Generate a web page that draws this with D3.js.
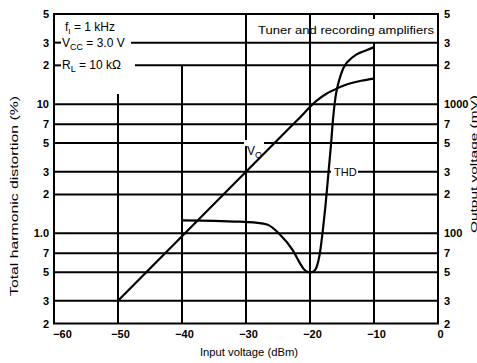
<!DOCTYPE html>
<html><head><meta charset="utf-8">
<script src="https://cdn.jsdelivr.net/npm/d3@7"></script>
<style>
html,body{margin:0;padding:0;background:#fff;}
text{font-family:"Liberation Sans",Arial,sans-serif;fill:#000;}
</style></head>
<body><svg id="c" width="477" height="363"></svg>
<script>
// ---- data ----
const xTicks = [-60, -50, -40, -30, -20, -10, 0];
const leftTickValues = [50, 30, 20, 10, 7, 5, 3, 2, 1, 0.7, 0.5, 0.3, 0.2];
const leftTickLabels = ["5", "3", "2", "10", "7", "5", "3", "2", "1.0", "7", "5", "3", "2"];
const rightTickValues = [5000, 3000, 2000, 1000, 700, 500, 300, 200, 100, 70, 50, 30, 20];
const rightTickLabels = ["5", "3", "2", "1000", "7", "5", "3", "2", "100", "7", "5", "3", "2"];
const gridValues = [10, 7, 5, 3, 2, 1, 0.7, 0.5, 0.3];
const partialGridValues = [30, 20];
// THD (%) vs input (dBm)
const thdInput = [-40, -35, -31, -28.5, -26.7, -24.7, -22.7, -21.6, -21.0, -20.3, -19.7, -19.2, -18.9, -18.5, -18.0, -17.6, -17.1, -16.7, -16.4, -16.0, -15.5, -14.8, -13.3, -11.1, -10];
const thdValue = [1.26, 1.25, 1.23, 1.21, 1.17, 0.98, 0.74, 0.59, 0.53, 0.50, 0.50, 0.52, 0.56, 0.68, 1.05, 1.6, 3.0, 5.0, 7.7, 11.5, 15.0, 19.0, 23.2, 26.3, 27.7];
// Output voltage (mV) vs input (dBm)
const voInput = [-50, -40, -30, -25, -22, -19, -17.5, -16.4, -14.8, -13.5, -12, -10];
const voValue = [30, 95, 300, 533, 750, 1060, 1200, 1280, 1390, 1460, 1520, 1580];

// ---- scales ----
const svg = d3.select("#c");
const x = d3.scaleLinear().domain([-60, 0]).range([54, 438]);
const y = d3.scaleLog().domain([0.2, 50]).range([323.5, 14]);
const yR = d3.scaleLog().domain([20, 5000]).range([323.5, 14]);
const X0 = x(-60), X1 = x(0), Y0 = y(0.2), Y1 = y(50);
const LW = 2;

const g = svg.append("g");
// horizontal grid
g.selectAll(".hg").data(gridValues).enter().append("line")
  .attr("x1", X0).attr("x2", X1).attr("y1", d => y(d)).attr("y2", d => y(d))
  .attr("stroke", "#000").attr("stroke-width", LW);
g.selectAll(".pg").data(partialGridValues).enter().append("line")
  .attr("x1", (d, i) => i === 0 ? 131 : 135).attr("x2", X1).attr("y1", d => y(d)).attr("y2", d => y(d))
  .attr("stroke", "#000").attr("stroke-width", LW);
// left small ticks for 30 and 20
g.selectAll(".lt").data(partialGridValues).enter().append("line")
  .attr("x1", X0).attr("x2", X0 + 7).attr("y1", d => y(d)).attr("y2", d => y(d))
  .attr("stroke", "#000").attr("stroke-width", LW);
// vertical grid
const vGrid = [{v: -50, top: 12}, {v: -40, top: 20}, {v: -30, top: 50}, {v: -20, top: 50}, {v: -10, top: 30}];
g.selectAll(".vg").data(vGrid).enter().append("line")
  .attr("x1", d => x(d.v)).attr("x2", d => x(d.v)).attr("y1", d => y(d.top)).attr("y2", Y0)
  .attr("stroke", "#000").attr("stroke-width", LW);
// top tick at -10
g.append("line").attr("x1", x(-10)).attr("x2", x(-10)).attr("y1", Y1).attr("y2", Y1 + 5)
  .attr("stroke", "#000").attr("stroke-width", LW);
// border
g.append("rect").attr("x", X0).attr("y", Y1).attr("width", X1 - X0).attr("height", Y0 - Y1)
  .attr("fill", "none").attr("stroke", "#000").attr("stroke-width", LW);

// curves
const thdLine = d3.line().x((d, i) => x(thdInput[i])).y(d => y(d)).curve(d3.curveMonotoneX);
g.append("path").attr("d", thdLine(thdValue)).attr("fill", "none").attr("stroke", "#000").attr("stroke-width", 2.2);
const voLine = d3.line().x((d, i) => x(voInput[i])).y(d => yR(d)).curve(d3.curveMonotoneX);
g.append("path").attr("d", voLine(voValue)).attr("fill", "none").attr("stroke", "#000").attr("stroke-width", 2.2);

// axes
const fontSize = 11;
const FF = "Liberation Sans, Arial, sans-serif";
const xAxis = d3.axisBottom(x).tickValues(xTicks).tickSize(0).tickPadding(7)
  .tickFormat(d => d === 0 ? "0" : "\u2212" + Math.abs(d));
const gx = svg.append("g").attr("transform", `translate(0,${Y0})`).call(xAxis);
gx.select(".domain").remove();
gx.selectAll("text").attr("font-size", fontSize).attr("font-weight", "bold").attr("font-family", FF)
  .attr("dx", d => d === -60 ? 8 : 2);

const yAxisL = d3.axisLeft(y).tickValues(leftTickValues).tickSize(0).tickPadding(5)
  .tickFormat((d, i) => leftTickLabels[i]);
const gl = svg.append("g").attr("transform", `translate(${X0},0)`).call(yAxisL);
gl.select(".domain").remove();
gl.selectAll("text").attr("font-size", fontSize).attr("font-weight", "bold").attr("font-family", FF);

const yAxisR = d3.axisRight(yR).tickValues(rightTickValues).tickSize(0).tickPadding(6)
  .tickFormat((d, i) => rightTickLabels[i]);
const gr = svg.append("g").attr("transform", `translate(${X1},0)`).call(yAxisR);
gr.select(".domain").remove();
gr.selectAll("text").attr("font-size", fontSize).attr("font-weight", "bold").attr("font-family", FF);

// axis titles
svg.append("text").attr("transform", `translate(18,196) rotate(-90)`)
  .attr("text-anchor", "middle").attr("font-size", 11).attr("textLength", 200).attr("lengthAdjust", "spacingAndGlyphs")
  .text("Total harmonic distortion (%)");
svg.append("text").attr("transform", `translate(476.5,164) rotate(-90)`)
  .attr("text-anchor", "middle").attr("font-size", 9.5).attr("textLength", 138).attr("lengthAdjust", "spacingAndGlyphs")
  .text("Output voltage (mV)");
svg.append("text").attr("x", 249).attr("y", 356)
  .attr("text-anchor", "middle").attr("font-size", 11).attr("textLength", 98).attr("lengthAdjust", "spacingAndGlyphs")
  .text("Input voltage (dBm)");

// condition text
const cond = svg.append("g").attr("font-size", 12);
const t1 = cond.append("text").attr("x", 65).attr("y", 31);
t1.append("tspan").text("f");
t1.append("tspan").attr("dy", 3).attr("font-size", 8).text("I");
t1.append("tspan").attr("dy", -3).text(" = 1 kHz");
const t2 = cond.append("text").attr("x", 62).attr("y", y(30) + 4);
t2.append("tspan").text("V");
t2.append("tspan").attr("dy", 3).attr("font-size", 9).text("CC");
t2.append("tspan").attr("dy", -3).text(" = 3.0 V");
const t3 = cond.append("text").attr("x", 62).attr("y", y(20) + 4);
t3.append("tspan").text("R");
t3.append("tspan").attr("dy", 3).attr("font-size", 9).text("L");
t3.append("tspan").attr("dy", -3).text(" = 10 k\u03A9");

// title box text
svg.append("text").attr("x", 258).attr("y", 34)
  .attr("font-size", 11).attr("textLength", 176).attr("lengthAdjust", "spacingAndGlyphs")
  .text("Tuner and recording amplifiers");

// curve labels
svg.append("rect").attr("x", 244).attr("y", y(5) - 3).attr("width", 20).attr("height", 6).attr("fill", "#fff");
const vo = svg.append("text").attr("x", 247).attr("y", y(5) + 12).attr("font-size", 12);
vo.append("tspan").text("V");
vo.append("tspan").attr("dy", 3).attr("font-size", 9).text("O");
svg.append("rect").attr("x", 331).attr("y", y(3) - 7).attr("width", 27).attr("height", 13).attr("fill", "#fff");
svg.append("text").attr("x", 334).attr("y", y(3) + 4).attr("font-size", 11).text("THD");
</script></body></html>
